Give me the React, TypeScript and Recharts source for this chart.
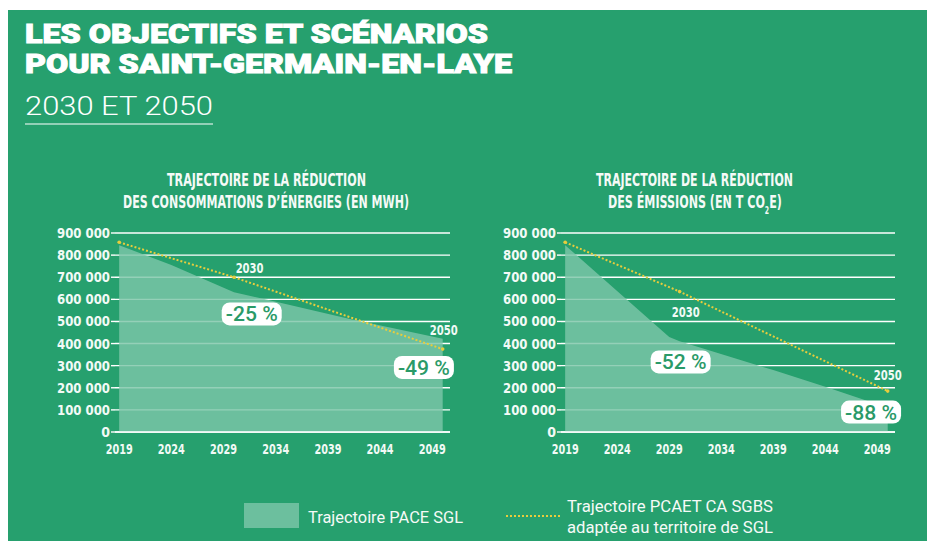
import {
  ComposedChart,
  Area,
  Line,
  XAxis,
  YAxis,
  CartesianGrid,
  ReferenceLine,
  ReferenceDot,
} from 'recharts';

// values (MWh and t CO2e)
const xTicks = [2019, 2024, 2029, 2034, 2039, 2044, 2049];
const yTicks = [0, 100000, 200000, 300000, 400000, 500000, 600000, 700000, 800000, 900000];

const paceEnergyYears = [2019, 2024, 2030, 2033, 2041, 2050];
const paceEnergy = [845000, 755000, 632000, 600000, 512000, 422000];

const paceEmissionYears = [2019, 2029, 2030, 2039, 2044, 2050];
const paceEmission = [845000, 430000, 410000, 280000, 205000, 110000];

const pcaetYears = [2019, 2030, 2050];
const pcaetEnergy = [858000, 700000, 375000];
const pcaetEmission = [858000, 635000, 185000];

const BG = '#26a06e';
const MINT = '#7cc6a8';
const YELLOW = '#e8cd3c';
const TICK_FONT = "'DejaVu Sans Condensed', 'Liberation Sans Narrow', 'DejaVu Sans', sans-serif";
const TEXT_FONT = "Roboto, 'Noto Sans', sans-serif";

interface Row {
  year: number;
  pace?: number;
  pcaet?: number;
}

function buildRows(paceYears: number[], pace: number[], lineYears: number[], line: number[]): Row[] {
  const map = new Map<number, Row>();
  paceYears.forEach((y, i) => map.set(y, { ...(map.get(y) || { year: y }), pace: pace[i] }));
  lineYears.forEach((y, i) => map.set(y, { ...(map.get(y) || { year: y }), pcaet: line[i] }));
  return Array.from(map.values()).sort((a, b) => a.year - b.year);
}

function formatThousands(v: number): string {
  if (v === 0) return '0';
  const s = String(v);
  return `${s.slice(0, s.length - 3)} ${s.slice(-3)}`;
}

// natural width of a string, used to squeeze the subtitle with a scale instead of textLength
function measure(text: string, font: string): number {
  const ctx = document.createElement('canvas').getContext('2d');
  if (!ctx) return 200;
  ctx.font = font;
  return ctx.measureText(text).width;
}

const XTick = (props: any) => {
  const { x, y, payload } = props;
  return (
    <text x={x} y={y + 22} textAnchor="middle" fontFamily={TICK_FONT} fontWeight="bold" fontSize={14}
      fill="#f2faf6" textLength={27} lengthAdjust="spacingAndGlyphs">
      {payload.value}
    </text>
  );
};

const YTick = (props: any) => {
  const { x, y, payload } = props;
  const label = formatThousands(payload.value);
  return (
    <text x={x} y={y + 5} textAnchor="end" fontFamily={TICK_FONT} fontWeight="bold" fontSize={14}
      fill="#f2faf6" {...(label.length > 1 ? { textLength: 53, lengthAdjust: 'spacingAndGlyphs' } : {})}>
      {label}
    </text>
  );
};

const badge = (text: string) => (props: any) => {
  const { cx, cy } = props;
  return (
    <g>
      <rect x={cx - 30} y={cy - 11.5} width={60} height={23} rx={8} fill="#fff" />
      <text x={cx} y={cy + 7.5} textAnchor="middle" fontFamily={TEXT_FONT} fontWeight={500} fontSize={21}
        fill="#2a9a68" textLength={52} lengthAdjust="spacingAndGlyphs">
        {text}
      </text>
    </g>
  );
};

const yearLabel = (text: string) => (props: any) => {
  const { cx, cy } = props;
  return (
    <text x={cx} y={cy + 5} textAnchor="middle" fontFamily={TICK_FONT} fontWeight="bold" fontSize={14}
      fill="#f2faf6" textLength={28} lengthAdjust="spacingAndGlyphs">
      {text}
    </text>
  );
};

interface Note {
  x: number;
  y: number;
  text: string;
  kind: 'badge' | 'year';
}

interface PanelProps {
  left: number;
  width: number;
  yAxisWidth: number;
  marginRight: number;
  rows: Row[];
  notes: Note[];
}

function Panel({ left, width, yAxisWidth, marginRight, rows, notes }: PanelProps) {
  return (
    <div style={{ position: 'absolute', left, top: 220 }}>
      <ComposedChart width={width} height={250} data={rows} margin={{ top: 13, right: marginRight, bottom: 8, left: 0 }}>
        <CartesianGrid vertical={false} stroke="#ffffff" strokeWidth={1.4} />
        <XAxis dataKey="year" type="number" domain={[2018.6, 2050.7]} ticks={xTicks} interval={0}
          tick={XTick} tickLine={false} axisLine={false} tickSize={0} tickMargin={0} height={30} allowDataOverflow />
        <YAxis type="number" domain={[0, 900000]} ticks={yTicks} interval={0} width={yAxisWidth}
          tick={YTick} tickLine={{ stroke: '#ffffff', strokeWidth: 1.4 }} tickSize={4} tickMargin={1} axisLine={false} />
        <Area dataKey="pace" type="linear" fill={MINT} fillOpacity={0.82} stroke="none" connectNulls
          isAnimationActive={false} />
        <ReferenceLine y={0} stroke="#ffffff" strokeWidth={1.6} />
        <Line dataKey="pcaet" type="linear" stroke={YELLOW} strokeWidth={2} strokeDasharray="2 2" connectNulls
          dot={{ r: 1.8, fill: YELLOW, stroke: 'none' }} activeDot={false} isAnimationActive={false} />
        {notes.map((n, i) => (
          <ReferenceDot key={i} x={n.x} y={n.y} r={0}
            shape={n.kind === 'badge' ? badge(n.text) : yearLabel(n.text)} />
        ))}
      </ComposedChart>
    </div>
  );
}

export default function App() {
  const energyRows = buildRows(paceEnergyYears, paceEnergy, pcaetYears, pcaetEnergy);
  const emissionRows = buildRows(paceEmissionYears, paceEmission, pcaetYears, pcaetEmission);

  const subFont = `bold 18px ${TICK_FONT}`;
  const natural = measure('DES ÉMISSIONS (EN T CO', subFont) + measure('2', `bold 10px ${TICK_FONT}`) +
    measure('E)', subFont);
  const squeeze = natural > 0 ? 174 / natural : 0.7;

  return (
    <div style={{ position: 'relative', width: 927, height: 541, background: '#fff', overflow: 'hidden' }}>
      <style>{'body{margin:0}'}</style>
      <div style={{ position: 'absolute', left: 8, top: 10, right: 0, bottom: 0, background: BG }} />

      <Panel left={0} width={470} yAxisWidth={115} marginRight={20} rows={energyRows}
        notes={[
          { x: 2031.5, y: 742000, text: '2030', kind: 'year' },
          { x: 2031.7, y: 534000, text: '-25 %', kind: 'badge' },
          { x: 2050.1, y: 461000, text: '2050', kind: 'year' },
          { x: 2048.2, y: 292000, text: '-49 %', kind: 'badge' },
        ]} />
      <Panel left={470} width={457} yAxisWidth={91} marginRight={32} rows={emissionRows}
        notes={[
          { x: 2030.6, y: 543000, text: '2030', kind: 'year' },
          { x: 2030.1, y: 317000, text: '-52 %', kind: 'badge' },
          { x: 2050.0, y: 258000, text: '2050', kind: 'year' },
          { x: 2048.4, y: 90000, text: '-88 %', kind: 'badge' },
        ]} />

      <svg width={927} height={541} style={{ position: 'absolute', left: 0, top: 0, pointerEvents: 'none' }}>
        <g fill="#ffffff" stroke="#ffffff" strokeWidth={0.9} fontFamily={TEXT_FONT} fontSize={25} fontWeight={900}>
          <text x={25} y={43} textLength={463} lengthAdjust="spacingAndGlyphs">LES OBJECTIFS ET SCÉNARIOS</text>
          <text x={25} y={73} textLength={487} lengthAdjust="spacingAndGlyphs">POUR SAINT-GERMAIN-EN-LAYE</text>
        </g>
        <text x={25} y={115} fill="#ffffff" fontFamily={TEXT_FONT} fontSize={25} fontWeight={300}
          textLength={188} lengthAdjust="spacingAndGlyphs">
          2030 ET 2050
        </text>
        <line x1={25} x2={213} y1={124} y2={124} stroke="#ffffff" strokeWidth={1.2} />

        <g fill="#f5faf7" fontFamily={TICK_FONT} fontWeight="bold" fontSize={18}>
          <text x={167} y={186} textLength={199} lengthAdjust="spacingAndGlyphs">TRAJECTOIRE DE LA RÉDUCTION</text>
          <text x={123} y={208} textLength={286} lengthAdjust="spacingAndGlyphs">DES CONSOMMATIONS D’ÉNERGIES (EN MWH)</text>
          <text x={596} y={186} textLength={197} lengthAdjust="spacingAndGlyphs">TRAJECTOIRE DE LA RÉDUCTION</text>
          <g transform={`translate(608 208) scale(${squeeze} 1)`}>
            <text x={0} y={0}>
              DES ÉMISSIONS (EN T CO<tspan fontSize={10} dy={6}>2</tspan><tspan dy={-6}>E)</tspan>
            </text>
          </g>
        </g>

        <rect x={244} y={503} width={55} height={25} fill={MINT} fillOpacity={0.82} />
        <g fill="#f5faf7" fontFamily={TEXT_FONT} fontSize={17}>
          <text x={308} y={523} textLength={155} lengthAdjust="spacingAndGlyphs">Trajectoire PACE SGL</text>
          <text x={567} y={512} textLength={206} lengthAdjust="spacingAndGlyphs">Trajectoire PCAET CA SGBS</text>
          <text x={567} y={533} textLength={206} lengthAdjust="spacingAndGlyphs">adaptée au territoire de SGL</text>
        </g>
        <line x1={506} x2={560} y1={516} y2={516} stroke={YELLOW} strokeWidth={2} strokeDasharray="2 2" />
      </svg>
    </div>
  );
}
